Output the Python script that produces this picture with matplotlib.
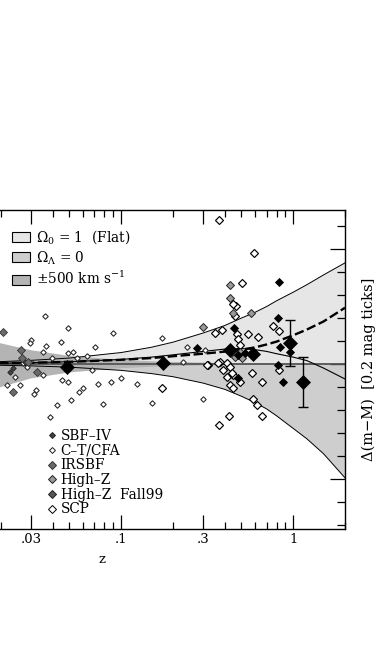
import matplotlib
matplotlib.use('Agg')
import numpy as np
from matplotlib import pyplot as plt
from matplotlib.patches import Patch
from matplotlib.lines import Line2D
from matplotlib.ticker import FixedLocator, FixedFormatter, NullFormatter

plt.rcParams['font.family'] = ['DejaVu Serif']
plt.rcParams['mathtext.fontset'] = 'dejavuserif'

# model curves (z, delta m)
curve_z = [0.003, 0.005, 0.01, 0.02, 0.03, 0.05, 0.1, 0.15, 0.2, 0.3, 0.4,
           0.5, 0.6, 0.7, 0.8, 1.0, 1.2, 1.5, 2.0]
lam1_dm = [0.003, 0.005, 0.011, 0.021, 0.032, 0.052, 0.10, 0.146, 0.19, 0.27,
           0.335, 0.40, 0.45, 0.50, 0.55, 0.625, 0.69, 0.775, 0.88]
om1_dm = [-0.002, -0.003, -0.005, -0.011, -0.016, -0.027, -0.055, -0.083,
          -0.11, -0.166, -0.22, -0.28, -0.335, -0.39, -0.45, -0.56, -0.65,
          -0.78, -0.99]
vel_hi = [0.96, 0.64, 0.35, 0.18, 0.12, 0.071, 0.036, 0.024, 0.018, 0.012,
          0.009, 0.007, 0.006, 0.005, 0.0045, 0.0036, 0.003, 0.0024, 0.0018]
vel_lo = [-1.6, -0.84, -0.39, -0.20, -0.125, -0.073, -0.036, -0.024, -0.018,
          -0.012, -0.009, -0.007, -0.006, -0.005, -0.0045, -0.0036, -0.003,
          -0.0024, -0.0018]
fit_dm = [0.001, 0.002, 0.004, 0.008, 0.011, 0.019, 0.037, 0.052, 0.068, 0.09,
          0.108, 0.125, 0.145, 0.17, 0.195, 0.25, 0.30, 0.37, 0.49]
alt_dm = [0.001, 0.002, 0.004, 0.008, 0.012, 0.02, 0.04, 0.06, 0.08, 0.11,
          0.13, 0.135, 0.125, 0.11, 0.09, 0.06, 0.03, -0.035, -0.13]

# supernova samples
ct_z = [0.0362, 0.0492, 0.0898, 0.030, 0.0296, 0.0448, 0.0367, 0.0352, 0.0706,
        0.0492, 0.0526, 0.0397, 0.0634, 0.0555, 0.0269, 0.0284, 0.0352, 0.0678,
        0.0242, 0.0217, 0.0259, 0.0454, 0.0492, 0.0601, 0.057, 0.0735, 0.0874,
        0.100, 0.0321, 0.0312, 0.0425, 0.0512, 0.0785, 0.0387, 0.151, 0.124,
        0.173, 0.242, 0.308, 0.229, 0.300]
ct_dm = [0.422, 0.31, 0.267, 0.207, 0.181, 0.19, 0.155, 0.103, 0.147, 0.095,
         0.103, 0.052, 0.069, 0.052, 0.009, -0.026, -0.095, -0.052, -0.112,
         -0.181, -0.181, -0.138, -0.155, -0.207, -0.241, -0.172, -0.155,
         -0.121, -0.224, -0.259, -0.353, -0.31, -0.345, -0.457, -0.336,
         -0.172, 0.224, 0.147, 0.121, 0.017, -0.302]

sbf_z = [0.0236, 0.0226, 0.0277]
sbf_dm = [-0.034, -0.069, 0.017]

ir_z = [0.0206, 0.0262, 0.0325, 0.0236, 0.0288, 0.0266]
ir_dm = [0.276, 0.121, -0.069, -0.241, 0.017, 0.052]

hz_z = [0.300, 0.430, 0.430, 0.448, 0.570, 0.460, 0.505, 0.492]
hz_dm = [0.319, 0.69, 0.578, 0.448, 0.448, 0.06, 0.052, 0.103]

f99_z = [0.277, 0.454, 0.479, 0.526, 0.479, 0.829, 0.818, 0.840, 0.961, 0.818,
         0.875]
f99_dm = [0.138, 0.31, 0.078, 0.095, -0.121, 0.716, 0.397, 0.147, 0.103,
          -0.009, -0.155]

scp_z = [0.371, 0.593, 0.505, 0.466, 0.448, 0.460, 0.173, 0.321, 0.352, 0.387,
         0.472, 0.479, 0.492, 0.547, 0.626, 0.765, 0.829, 0.376, 0.413, 0.392,
         0.430, 0.413, 0.448, 0.430, 0.448, 0.442, 0.492, 0.578, 0.661, 0.585,
         0.618, 0.661, 0.424, 0.371, 0.366, 0.316, 0.829]
scp_dm = [1.25, 0.966, 0.707, 0.509, 0.526, 0.422, -0.207, -0.009, 0.267, 0.293,
          0.259, 0.216, 0.164, 0.259, 0.233, 0.328, 0.284, 0.017, 0.009, -0.052,
          -0.026, -0.112, -0.095, -0.181, -0.207, -0.078, -0.155, -0.078,
          -0.155, -0.302, -0.353, -0.448, -0.448, -0.534, 0.009, -0.009, -0.052]

bin_z = [0.0485, 0.175, 0.430, 0.585, 0.961, 1.143]
bin_dm = [-0.026, 0.009, 0.121, 0.086, 0.181, -0.155]
bin_err = [0.0, 0.0, 0.0, 0.0, 0.20, 0.22]

xticks_major = [0.003, 0.01, 0.03, 0.1, 0.3, 1]
xtick_labels = ['', '', '.03', '.1', '.3', '1']
xticks_minor = [0.004, 0.005, 0.006, 0.007, 0.008, 0.009, 0.02, 0.04, 0.05,
                0.06, 0.07, 0.08, 0.09, 0.2, 0.4, 0.5, 0.6, 0.7, 0.8, 0.9, 2]

c_flat = '#e6e6e6'
c_open = '#cecece'
c_vel = '#b4b4b4'

fig = plt.figure(figsize=(3.92, 6.59), dpi=100)
ax = fig.add_axes([-141 / 392, 130 / 659, 486 / 392, 319 / 659])
ax.set_xscale('log')
ax.set_xlim(0.003, 2.0)
ax.set_ylim(-1.435, 1.34)

ax.fill_between(curve_z, om1_dm, lam1_dm, color=c_flat, lw=0, zorder=1)
ax.fill_between(curve_z, om1_dm, 0, color=c_open, lw=0, zorder=1.1)
ax.fill_between(curve_z, vel_lo, vel_hi, color=c_vel, lw=0, zorder=1.2)
ax.plot(curve_z, lam1_dm, color='k', lw=0.7, zorder=2)
ax.plot(curve_z, om1_dm, color='k', lw=0.7, zorder=2)
ax.axhline(0, color='#555555', lw=1.3, zorder=2)
ax.plot(curve_z, alt_dm, color='k', lw=0.8, zorder=2.1)
ax.plot(curve_z, fit_dm, color='k', lw=1.7, ls=(0, (4, 1.5)), zorder=2.2)

mk = dict(ls='none', marker='D', zorder=3)
ax.plot(ct_z, ct_dm, ms=2.8, mfc='white', mec='#222222', mew=0.75, **mk)
ax.plot(sbf_z, sbf_dm, ms=2.8, mfc='#444444', mec='#222222', mew=0.6, **mk)
ax.plot(ir_z, ir_dm, ms=4.0, mfc='#6a6a6a', mec='#333333', mew=0.6, **mk)
ax.plot(scp_z, scp_dm, ms=4.2, mfc='white', mec='black', mew=0.85, **mk)
ax.plot(hz_z, hz_dm, ms=4.0, mfc='#999999', mec='#222222', mew=0.7, **mk)
ax.plot(f99_z, f99_dm, ms=4.0, mfc='black', mec='black', mew=0.6, **mk)

err = np.array(bin_err)
has_err = err > 0
ax.errorbar(np.array(bin_z)[has_err], np.array(bin_dm)[has_err],
            yerr=err[has_err], fmt='none', ecolor='black', elinewidth=1.0,
            capsize=3.5, capthick=1.0, zorder=3.5)
ax.plot(bin_z, bin_dm, ms=7.5, mfc='black', mec='black', mew=0.5,
        ls='none', marker='D', zorder=4)

# axes and ticks
for s in ax.spines.values():
    s.set_linewidth(1.0)
ax.xaxis.set_major_locator(FixedLocator(xticks_major))
ax.xaxis.set_major_formatter(FixedFormatter(xtick_labels))
ax.xaxis.set_minor_locator(FixedLocator(xticks_minor))
ax.xaxis.set_minor_formatter(NullFormatter())
ax.yaxis.set_major_locator(FixedLocator([-1, 0, 1]))
ax.yaxis.set_minor_locator(FixedLocator(np.arange(-1.4, 1.3, 0.2)))
ax.yaxis.set_major_formatter(NullFormatter())
ax.tick_params(which='both', direction='in', top=True, right=True,
               left=True, bottom=True, width=0.9, colors='black')
ax.tick_params(axis='x', which='major', length=10, labelsize=9.5, pad=3)
ax.tick_params(axis='x', which='minor', length=5)
ax.tick_params(axis='y', which='major', length=11)
ax.tick_params(axis='y', which='minor', length=6)

ax.set_xlabel('z', fontsize=9.5, labelpad=5)
ax.yaxis.set_label_position('right')
ax.set_ylabel('\u0394(m\u2212M)  [0.2 mag ticks]', fontsize=10.5,
              rotation=90, labelpad=12)

# legends
shade_handles = [
    Patch(fc=c_flat, ec='black', lw=0.8, label=r'$\Omega_0$ = 1  (Flat)'),
    Patch(fc=c_open, ec='black', lw=0.8, label=r'$\Omega_\Lambda$ = 0'),
    Patch(fc=c_vel, ec='black', lw=0.8, label=r'$\pm$500 km s$^{-1}$'),
]
leg1 = ax.legend(handles=shade_handles, loc='upper left',
                 bbox_to_anchor=(12 / 392, 1 - 228 / 659),
                 bbox_transform=fig.transFigure, frameon=False, fontsize=9.8,
                 handlelength=1.3, handleheight=0.75, handletextpad=0.5,
                 labelspacing=0.25, borderpad=0, borderaxespad=0)
ax.add_artist(leg1)

def mh(face, edge, size, label):
    return Line2D([], [], ls='none', marker='D', ms=size, mfc=face, mec=edge,
                  mew=0.7, label=label)

sample_handles = [
    mh('#444444', '#222222', 3.0, 'SBF\u2013IV'),
    mh('white', '#222222', 3.0, 'C\u2013T/CFA'),
    mh('#6a6a6a', '#333333', 4.0, 'IRSBF'),
    mh('#999999', '#222222', 4.0, 'High\u2013Z'),
    mh('#555555', '#222222', 4.0, 'High\u2013Z  Fall99'),
    mh('white', 'black', 4.0, 'SCP'),
]
ax.legend(handles=sample_handles, loc='upper left',
          bbox_to_anchor=(47 / 392, 1 - 429 / 659),
          bbox_transform=fig.transFigure, frameon=False, fontsize=9.8,
          handlelength=0.7, handletextpad=0.3, labelspacing=0.05,
          borderpad=0, borderaxespad=0)

fig.savefig('out.png', dpi=100)
